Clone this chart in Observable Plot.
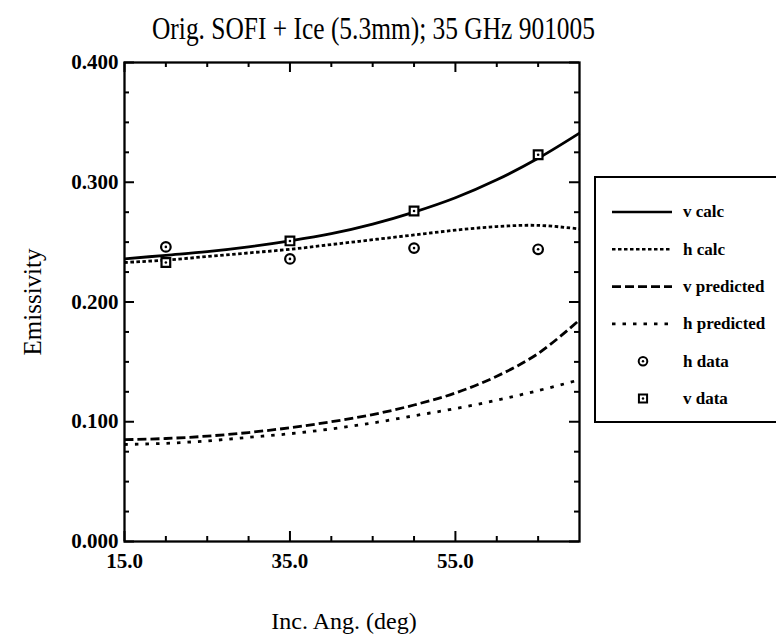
<!DOCTYPE html>
<html>
<head>
<meta charset="utf-8">
<script src="https://cdn.jsdelivr.net/npm/d3@7"></script>
<script src="https://cdn.jsdelivr.net/npm/@observablehq/plot@0.6"></script>
<style>
  body { margin: 0; background: #fff; }
  #chart { width: 776px; height: 643px; }
</style>
</head>
<body>
<div id="chart"></div>
<script>
// Incidence angles (deg) at which the model curves are sampled
const angles = [15, 20, 25, 30, 35, 40, 45, 50, 55, 60, 65, 70];
// Model emissivities
const vCalc = [0.236, 0.239, 0.242, 0.246, 0.251, 0.257, 0.265, 0.275, 0.287, 0.302, 0.320, 0.341];
const hCalc = [0.233, 0.235, 0.238, 0.241, 0.244, 0.248, 0.252, 0.256, 0.260, 0.263, 0.264, 0.261];
const vPredicted = [0.085, 0.086, 0.088, 0.091, 0.095, 0.100, 0.106, 0.114, 0.124, 0.138, 0.157, 0.185];
const hPredicted = [0.081, 0.082, 0.084, 0.087, 0.090, 0.094, 0.099, 0.105, 0.111, 0.118, 0.126, 0.135];

// Measured points
const dataAngles = [20, 35, 50, 65];
const hData = [0.246, 0.236, 0.245, 0.244];
const vData = [0.233, 0.251, 0.276, 0.323];

// Axis ticks
const yTicks = [0, 0.1, 0.2, 0.3, 0.4];
const yMinorTicks = [0.025, 0.05, 0.075, 0.125, 0.15, 0.175, 0.225, 0.25, 0.275, 0.325, 0.35, 0.375];
const xTicks = [15, 35, 55];
const xMinorTicks = [20, 25, 30, 40, 45, 50, 60, 65];

const titleText = "Orig. SOFI + Ice (5.3mm); 35 GHz 901005";
const xLabel = "Inc. Ang. (deg)";
const yLabel = "Emissivity";
const legendLabels = ["v calc", "h calc", "v predicted", "h predicted", "h data", "v data"];

// Line styles shared by the curves and the legend
const styles = {
  "v calc": {dash: null},
  "h calc": {dash: "3.5,2.5"},
  "v predicted": {dash: "9,4"},
  "h predicted": {dash: "3.5,7"}
};

const curves = [
  ["v calc", vCalc], ["h calc", hCalc], ["v predicted", vPredicted], ["h predicted", hPredicted]
].map(([name, vals]) => ({name, rows: angles.map((a, i) => ({angle: a, value: vals[i]}))}));

const hPoints = dataAngles.map((a, i) => ({angle: a, value: hData[i]}));
const vPoints = dataAngles.map((a, i) => ({angle: a, value: vData[i]}));

const W = 776, H = 643;
const mL = 124, mR = 197, mT = 62, mB = 102;
const fw = W - mL - mR, fh = H - mT - mB;
const font = "'Liberation Serif', 'Times New Roman', serif";

const chart = Plot.plot({
  width: W,
  height: H,
  marginLeft: mL,
  marginRight: mR,
  marginTop: mT,
  marginBottom: mB,
  x: {domain: [15, 70]},
  y: {domain: [0, 0.4]},
  style: {fontFamily: font, background: "white", color: "black"},
  marks: [
    Plot.axisY(yTicks, {anchor: "left", tickSize: 0, tickPadding: 6, tickFormat: d3.format(".3f"),
      fontSize: 21, fontWeight: "bold", label: null}),
    Plot.axisX(xTicks, {anchor: "bottom", tickSize: 0, tickPadding: 12, tickFormat: d3.format(".1f"),
      fontSize: 21, fontWeight: "bold", label: null}),
    // inward ticks on all four sides
    Plot.tickY(yTicks, {y: d => d, insetRight: fw - 10, strokeWidth: 2}),
    Plot.tickY(yTicks, {y: d => d, insetLeft: fw - 10, strokeWidth: 2}),
    Plot.tickY(yMinorTicks, {y: d => d, insetRight: fw - 5, strokeWidth: 2}),
    Plot.tickY(yMinorTicks, {y: d => d, insetLeft: fw - 5, strokeWidth: 2}),
    Plot.tickX(xTicks, {x: d => d, insetTop: fh - 10, strokeWidth: 2}),
    Plot.tickX(xTicks, {x: d => d, insetBottom: fh - 10, strokeWidth: 2}),
    Plot.tickX(xMinorTicks, {x: d => d, insetTop: fh - 5, strokeWidth: 2}),
    Plot.tickX(xMinorTicks, {x: d => d, insetBottom: fh - 5, strokeWidth: 2}),
    Plot.frame({stroke: "black", strokeWidth: 2.3}),
    ...curves.map(c => Plot.line(c.rows, {
      x: "angle", y: "value", curve: "catmull-rom", stroke: "black",
      strokeWidth: 2.8, strokeLinecap: "butt", strokeDasharray: styles[c.name].dash
    })),
    Plot.dot(hPoints, {x: "angle", y: "value", symbol: "circle", r: 4.8, stroke: "black", strokeWidth: 2.2, fill: "white"}),
    Plot.dot(vPoints, {x: "angle", y: "value", symbol: "square", r: 4.9, stroke: "black", strokeWidth: 2.2, fill: "white"}),
    Plot.dot([...hPoints, ...vPoints], {x: "angle", y: "value", r: 1.3, fill: "black"}),
    Plot.text([xLabel], {frameAnchor: "bottom", textAnchor: "middle", lineAnchor: "middle", dx: -8, dy: 80, fontSize: 24}),
    Plot.text([yLabel], {frameAnchor: "left", textAnchor: "middle", lineAnchor: "middle", rotate: -90, dx: -92, fontSize: 25})
  ]
});

document.getElementById("chart").appendChild(chart);

const svg = d3.select(chart);

// Title, squeezed to the width of the plotted heading
svg.append("text")
  .attr("x", 152).attr("y", 39)
  .attr("font-family", font).attr("font-size", 31)
  .attr("text-anchor", "start")
  .attr("textLength", 443).attr("lengthAdjust", "spacingAndGlyphs")
  .attr("fill", "black")
  .text(titleText);

// Legend box at the right of the frame
const lg = svg.append("g").attr("font-family", font).attr("text-anchor", "start");
lg.append("rect").attr("x", 595).attr("y", 177).attr("width", 200).attr("height", 245)
  .attr("fill", "white").attr("stroke", "black").attr("stroke-width", 2);
legendLabels.forEach((name, i) => {
  const y = 212 + i * 37.3;
  if (styles[name]) {
    lg.append("line").attr("x1", 612).attr("x2", 672).attr("y1", y).attr("y2", y)
      .attr("stroke", "black").attr("stroke-width", 2.6)
      .attr("stroke-dasharray", styles[name].dash);
  } else {
    const isCircle = name === "h data";
    const r = isCircle ? 4.3 : 4.6;
    lg.append("path")
      .attr("d", d3.symbol(isCircle ? d3.symbolCircle : d3.symbolSquare, Math.PI * r * r)())
      .attr("transform", `translate(643,${y})`)
      .attr("fill", "white").attr("stroke", "black").attr("stroke-width", 2);
    lg.append("circle").attr("cx", 643).attr("cy", y).attr("r", 1.2).attr("fill", "black");
  }
  lg.append("text").attr("x", 683).attr("y", y).attr("dy", "0.32em")
    .attr("font-size", 17).attr("font-weight", "bold").attr("text-anchor", "start").text(name);
});
</script>
</body>
</html>
